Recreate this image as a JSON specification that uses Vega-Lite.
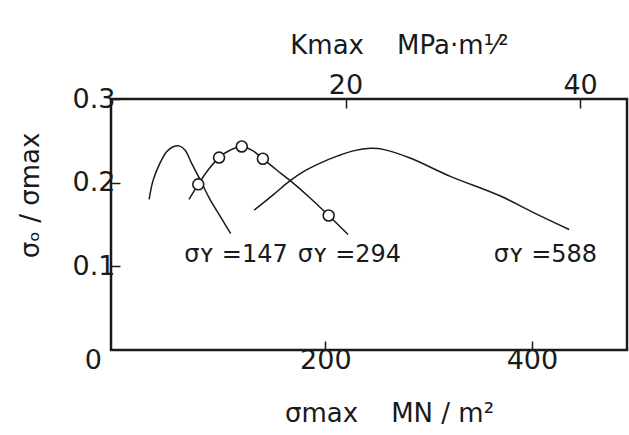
{
  "$schema": "https://vega.github.io/schema/vega-lite/v6.json",
  "width": 516,
  "height": 251,
  "autosize": {"type": "none"},
  "padding": {"left": 111, "top": 99, "right": 2, "bottom": 85},
  "background": "white",
  "config": {
    "view": {"stroke": "#1a1a1a", "strokeWidth": 2.5},
    "font": "DejaVu Sans",
    "axis": {
      "domain": false,
      "grid": false,
      "labelFont": "DejaVu Sans",
      "labelFontSize": 27,
      "labelColor": "#1a1a1a",
      "titleFont": "DejaVu Sans",
      "titleFontSize": 26,
      "titleFontWeight": "normal",
      "titleColor": "#1a1a1a",
      "tickColor": "#1a1a1a",
      "tickWidth": 1.5,
      "tickSize": -9
    }
  },
  "datasets": {
    "curves": [
      {"series": "147", "o": 1, "s": 29.4, "r": 0.180},
      {"series": "147", "o": 2, "s": 33.3, "r": 0.203},
      {"series": "147", "o": 3, "s": 39.8, "r": 0.223},
      {"series": "147", "o": 4, "s": 46.3, "r": 0.237},
      {"series": "147", "o": 5, "s": 52.7, "r": 0.243},
      {"series": "147", "o": 6, "s": 58.5, "r": 0.244},
      {"series": "147", "o": 7, "s": 64.1, "r": 0.239},
      {"series": "147", "o": 8, "s": 70.6, "r": 0.223},
      {"series": "147", "o": 9, "s": 78.6, "r": 0.204},
      {"series": "147", "o": 10, "s": 88.3, "r": 0.180},
      {"series": "147", "o": 11, "s": 98.1, "r": 0.160},
      {"series": "147", "o": 12, "s": 108.4, "r": 0.139},
      {"series": "294", "o": 1, "s": 68, "r": 0.180},
      {"series": "294", "o": 2, "s": 77, "r": 0.198},
      {"series": "294", "o": 3, "s": 87, "r": 0.216},
      {"series": "294", "o": 4, "s": 97.1, "r": 0.230},
      {"series": "294", "o": 5, "s": 108, "r": 0.239},
      {"series": "294", "o": 6, "s": 119.1, "r": 0.2433},
      {"series": "294", "o": 7, "s": 130, "r": 0.238},
      {"series": "294", "o": 8, "s": 139.5, "r": 0.2286},
      {"series": "294", "o": 9, "s": 152, "r": 0.216},
      {"series": "294", "o": 10, "s": 166, "r": 0.2024},
      {"series": "294", "o": 11, "s": 185, "r": 0.182},
      {"series": "294", "o": 12, "s": 203.2, "r": 0.1607},
      {"series": "294", "o": 13, "s": 222, "r": 0.138},
      {"series": "588", "o": 1, "s": 131, "r": 0.167},
      {"series": "588", "o": 2, "s": 150, "r": 0.186},
      {"series": "588", "o": 3, "s": 166, "r": 0.2024},
      {"series": "588", "o": 4, "s": 180, "r": 0.214},
      {"series": "588", "o": 5, "s": 195, "r": 0.2234},
      {"series": "588", "o": 6, "s": 212, "r": 0.232},
      {"series": "588", "o": 7, "s": 227, "r": 0.238},
      {"series": "588", "o": 8, "s": 244, "r": 0.241},
      {"series": "588", "o": 9, "s": 257, "r": 0.2395},
      {"series": "588", "o": 10, "s": 282, "r": 0.2294},
      {"series": "588", "o": 11, "s": 321, "r": 0.2075},
      {"series": "588", "o": 12, "s": 370, "r": 0.1837},
      {"series": "588", "o": 13, "s": 402, "r": 0.1639},
      {"series": "588", "o": 14, "s": 436, "r": 0.144}
    ],
    "points": [
      {"s": 77, "r": 0.198},
      {"s": 97.1, "r": 0.230},
      {"s": 119.1, "r": 0.2433},
      {"s": 139.5, "r": 0.2286},
      {"s": 203.2, "r": 0.1607}
    ],
    "labels": [
      {"s": 113.5, "r": 0.114, "t": "σʏ =147"},
      {"s": 223.3, "r": 0.114, "t": "σʏ =294"},
      {"s": 413, "r": 0.114, "t": "σʏ =588"}
    ],
    "kticks": [
      {"K": 20},
      {"K": 40}
    ]
  },
  "layer": [
    {
      "layer": [
        {
          "data": {"name": "curves"},
          "mark": {"type": "line", "interpolate": "catmull-rom", "color": "#1a1a1a", "strokeWidth": 1.5},
          "encoding": {
            "x": {
              "field": "s", "type": "quantitative",
              "scale": {"domain": [-7.5, 492], "nice": false, "zero": false},
              "axis": {
                "orient": "bottom",
                "values": [0, 200, 400],
                "labelPadding": 6,
                "labelOffset": {"condition": {"test": "datum.value == 0", "value": -26}, "value": 0},
                "tickOpacity": {"condition": {"test": "datum.value == 0", "value": 0}, "value": 1},
                "title": "σmax\u00a0\u00a0\u00a0\u00a0MN / m²",
                "titleX": 278,
                "titleY": 63,
                "titleBaseline": "middle",
                "titleAlign": "center"
              }
            },
            "y": {
              "field": "r", "type": "quantitative",
              "scale": {"domain": [0, 0.3], "nice": false},
              "axis": {
                "values": [0.1, 0.2, 0.3],
                "format": ".1f",
                "labelPadding": 5,
                "title": "σₒ / σmax",
                "titleAngle": 270,
                "titleX": -81,
                "titleY": 96,
                "titleBaseline": "middle",
                "titleAlign": "center"
              }
            },
            "detail": {"field": "series"},
            "order": {"field": "o", "type": "quantitative"}
          }
        },
        {
          "data": {"name": "points"},
          "mark": {"type": "point", "shape": "circle", "filled": true, "fill": "white", "stroke": "#1a1a1a", "strokeWidth": 1.6, "size": 120, "opacity": 1},
          "encoding": {
            "x": {"field": "s", "type": "quantitative"},
            "y": {"field": "r", "type": "quantitative"}
          }
        },
        {
          "data": {"name": "labels"},
          "mark": {"type": "text", "fontSize": 24, "color": "#1a1a1a", "align": "center", "baseline": "middle", "font": "DejaVu Sans"},
          "encoding": {
            "x": {"field": "s", "type": "quantitative"},
            "y": {"field": "r", "type": "quantitative"},
            "text": {"field": "t"}
          }
        }
      ]
    },
    {
      "data": {"name": "kticks"},
      "mark": {"type": "point", "opacity": 0},
      "encoding": {
        "x": {
          "field": "K", "type": "quantitative",
          "scale": {"domain": [0, 44], "nice": false, "zero": false},
          "axis": {
            "orient": "top",
            "values": [20, 40],
            "labelPadding": 9,
            "title": "Kmax\u00a0\u00a0\u00a0\u00a0MPa·m¹⁄²",
            "titleX": 288,
            "titleY": -54,
            "titleBaseline": "middle",
            "titleAlign": "center"
          }
        }
      }
    }
  ],
  "resolve": {"scale": {"x": "independent"}}
}
